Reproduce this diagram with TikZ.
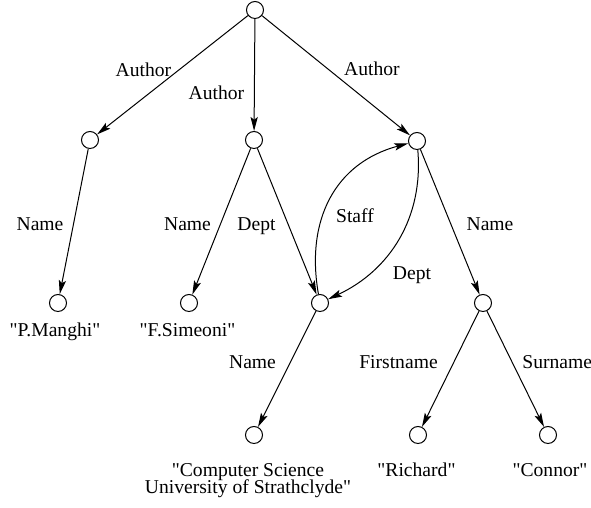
\documentclass[tikz,border=0pt]{standalone}
\usepackage{fontspec}
\setmainfont{Liberation Serif}
\newfontfamily\diagfont{Liberation Serif}
\usetikzlibrary{arrows.meta}

\newcommand{\quoted}[1]{\textquotedbl#1\textquotedbl}

\begin{document}
\begin{tikzpicture}[
        x=0.5pt,
        y=0.5pt,
        vertex/.style={
            circle,
            draw,
            line width=0.5pt,
            minimum size=8.5pt,
            inner sep=0pt
        },
        lbl/.style={
            font=\diagfont\fontsize{9.8pt}{8pt}\selectfont,
            inner sep=0pt,
            anchor=base,
            align=center
        },
        arrow/.style={
            -{Stealth[length=7pt,width=3.6pt,inset=1.4pt]},
            line width=0.5pt
        }
    ]
        \useasboundingbox (0,0) rectangle (591,508);

        \node[vertex] (root) at (255,498) {};

        \node[vertex] (a1) at (90,368) {};
        \node[vertex] (a2) at (254,368) {};
        \node[vertex] (a3) at (417,367) {};

        \node[vertex] (pm) at (58,205) {};
        \node[vertex] (fs) at (189,205) {};
        \node[vertex] (dp) at (320,205) {};
        \node[vertex] (nm) at (483,205) {};

        \node[vertex] (cs) at (254,73) {};
        \node[vertex] (ri) at (418,73) {};
        \node[vertex] (co) at (548,73) {};

        \node[lbl] (author1) at (143.5,431) {Author};
        \node[lbl] (author2) at (216.5,408) {Author};
        \node[lbl] (author3) at (372,432) {Author};
        \node[lbl] (name1) at (40,277) {Name};
        \node[lbl] (name2) at (187.5,277) {Name};
        \node[lbl] (dept1) at (256.5,277) {Dept};
        \node[lbl] (staff) at (355,285) {Staff};
        \node[lbl] (name3) at (490,277) {Name};
        \node[lbl] (dept2) at (412,228) {Dept};
        \node[lbl] (name4) at (252.5,139) {Name};
        \node[lbl] (firstname) at (398.5,139) {Firstname};
        \node[lbl, anchor=base west] (surname) at (522,139) {Surname};

        \node[lbl] (pmval) at (55,171) {\quoted{P.Manghi}};
        \node[lbl] (fsval) at (187.5,171) {\quoted{F.Simeoni}};
        \node[lbl] (csval) at (248,14) {\textquotedbl Computer Science\\[-1pt]University of Strathclyde\textquotedbl};
        \node[lbl] (rival) at (416.5,31) {\quoted{Richard}};
        \node[lbl] (coval) at (550,31) {\quoted{Connor}};

        \draw[arrow] (root) -- (a1);
        \draw[arrow] (root) -- (a2);
        \draw[arrow] (root) -- (a3);

        \draw[arrow] (a1) -- (pm);
        \draw[arrow] (a2) -- (fs);
        \draw[arrow] (a2) -- (dp);
        \draw[arrow] (a3) -- (nm);

        \draw[arrow] (dp) to[out=100, in=195, looseness=1.1] (a3);
        \draw[arrow] (a3) to[out=275, in=25] (dp);

        \draw[arrow] (dp) -- (cs);
        \draw[arrow] (nm) -- (ri);
        \draw[arrow] (nm) -- (co);

    \end{tikzpicture}
\end{document}
